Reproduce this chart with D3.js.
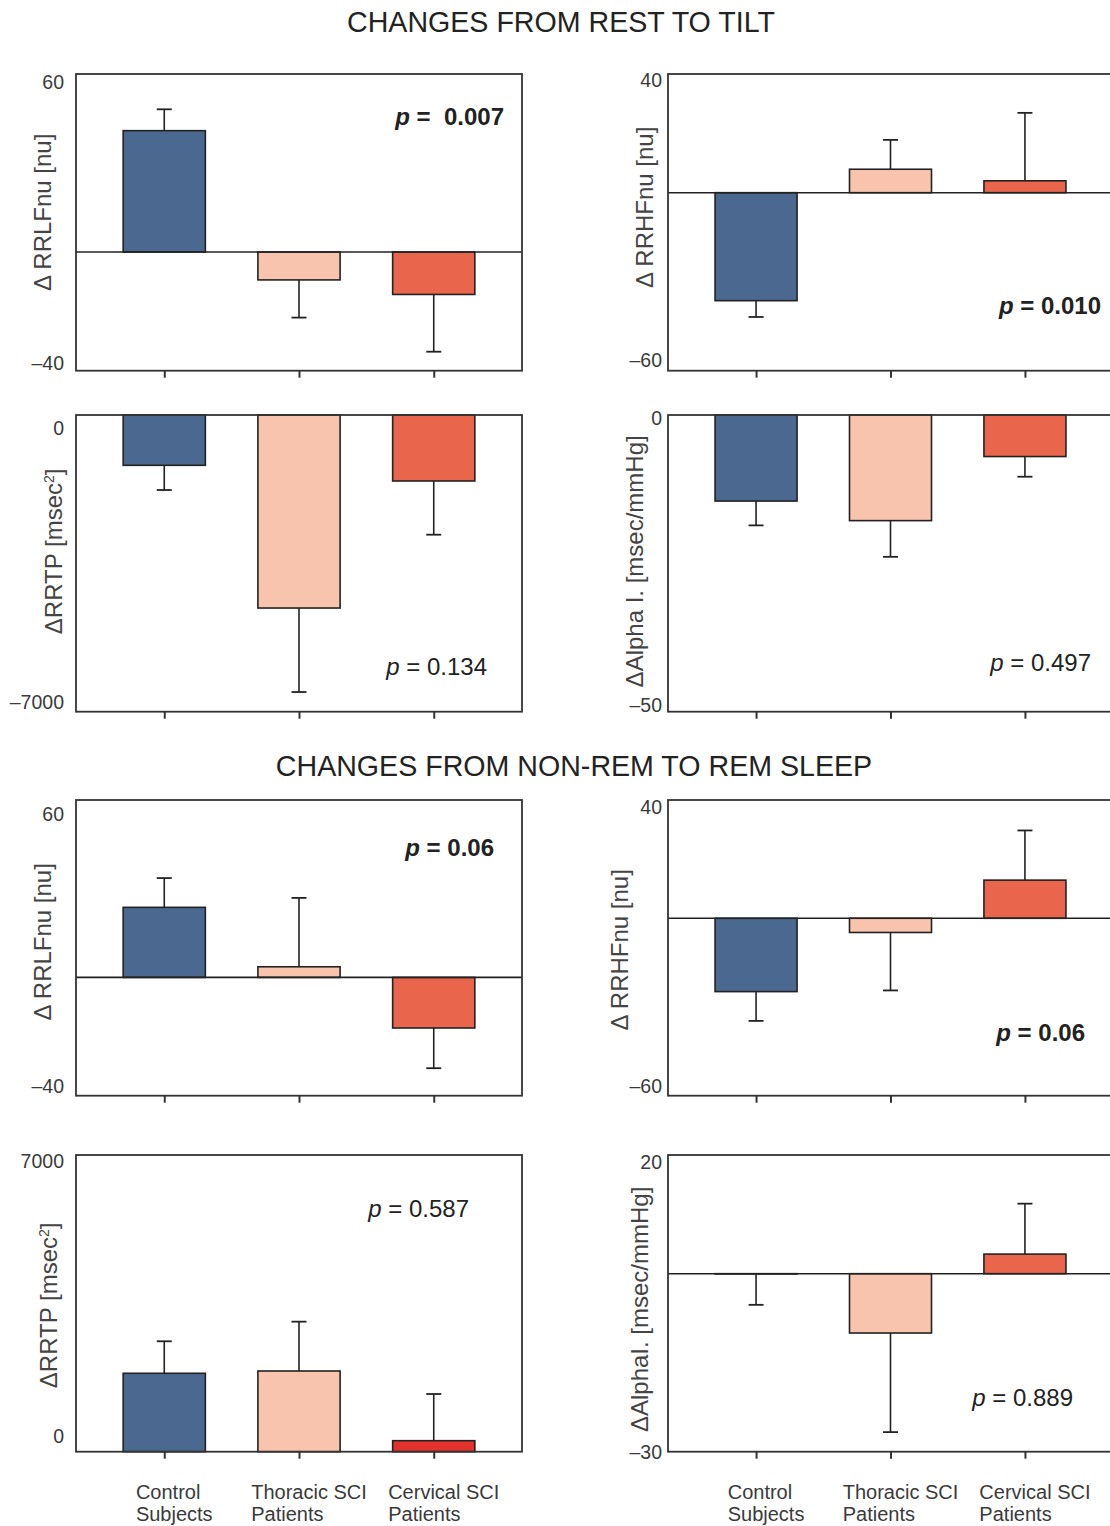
<!DOCTYPE html>
<html><head><meta charset="utf-8">
<script src="https://cdn.jsdelivr.net/npm/d3@7"></script>
<style>
body{margin:0;background:#fff;}
svg{display:block;font-family:"Liberation Sans",Arial,Helvetica,sans-serif;}
</style>
</head><body>
<svg id="chart" width="1110" height="1526"></svg>
<script>
// ---------------- DATA ----------------
const categories = ["Control Subjects", "Thoracic SCI Patients", "Cervical SCI Patients"];
const categoryLines = [["Control", "Subjects"], ["Thoracic SCI", "Patients"], ["Cervical SCI", "Patients"]];
const sectionTitles = ["CHANGES FROM REST TO TILT", "CHANGES FROM NON-REM TO REM SLEEP"];

// Rest -> Tilt
const tiltLFMean = [40.9, -9.4, -14.3];
const tiltLFErr  = [7.2, 12.7, 19.3];
const tiltHFMean = [-36.4, 7.9, 4.0];
const tiltHFErr  = [5.5, 9.9, 22.9];
const tiltTPMean = [-1187, -4554, -1557];
const tiltTPErr  = [583, 1982, 1267];
const tiltAlphaMean = [-14.5, -17.8, -7.0];
const tiltAlphaErr  = [4.1, 6.1, 3.4];
// Non-REM -> REM
const sleepLFMean = [23.7, 3.6, -17.1];
const sleepLFErr  = [9.9, 23.3, 13.6];
const sleepHFMean = [-24.8, -4.8, 12.9];
const sleepHFErr  = [9.9, 19.6, 16.8];
const sleepTPMean = [1850, 1904, 260];
const sleepTPErr  = [755, 1164, 1101];
const sleepAlphaMean = [-0.05, -10.0, 3.3];
const sleepAlphaErr  = [5.2, 16.7, 8.5];

// axis ranges / tick labels
const tiltLFTicks = [-40, 60];
const tiltHFTicks = [-60, 40];
const tiltTPTicks = [-7000, 0];
const tiltAlphaTicks = [-50, 0];
const sleepLFTicks = [-40, 60];
const sleepHFTicks = [-60, 40];
const sleepTPTicks = [0, 7000];
const sleepAlphaTicks = [-30, 20];

// p-values
const pValues = ["0.007", "0.010", "0.134", "0.497", "0.06", "0.06", "0.587", "0.889"];
const pBold   = [true, true, false, false, true, true, false, false];

const yLabels = ["Δ RRLFnu [nu]", "Δ RRHFnu [nu]", "ΔRRTP [msec|2|]", "ΔAlpha I. [msec/mmHg]",
                 "Δ RRLFnu [nu]", "Δ RRHFnu [nu]", "ΔRRTP [msec|2|]", "ΔAlphaI. [msec/mmHg]"];

const panels = [
  {mean: tiltLFMean, err: tiltLFErr, ticks: tiltLFTicks},
  {mean: tiltHFMean, err: tiltHFErr, ticks: tiltHFTicks},
  {mean: tiltTPMean, err: tiltTPErr, ticks: tiltTPTicks},
  {mean: tiltAlphaMean, err: tiltAlphaErr, ticks: tiltAlphaTicks},
  {mean: sleepLFMean, err: sleepLFErr, ticks: sleepLFTicks},
  {mean: sleepHFMean, err: sleepHFErr, ticks: sleepHFTicks},
  {mean: sleepTPMean, err: sleepTPErr, ticks: sleepTPTicks},
  {mean: sleepAlphaMean, err: sleepAlphaErr, ticks: sleepAlphaTicks}
];

// ---------------- LAYOUT / STYLE ----------------
const colX = [[76, 522], [668, 1113]];
const rowY = [[74, 370.7], [415, 711.7], [800, 1095.7], [1155, 1451.7]];
const fills = ["#4b6890", "#f9c4ad", "#e9654b"];
const fillsAlt = ["#4b6890", "#f9c4ad", "#e3322c"];
const layout = [
  {col:0,row:0, lab:[-33,-10], nudge:[8,-8],   p:[-18,43],  fills:fills},
  {col:1,row:0, lab:[-23,-15], nudge:[6,-11],  p:[-12,232], fills:fills},
  {col:0,row:1, lab:[-22,-12], nudge:[13,-10], p:[-35,252], fills:fills},
  {col:1,row:1, lab:[-33,-2],  nudge:[3,-7],   p:[-22,248], fills:fills},
  {col:0,row:2, lab:[-33,-6],  nudge:[14,-10], p:[-28,48],  fills:fills},
  {col:1,row:2, lab:[-48,2],   nudge:[7,-10],  p:[-28,233], fills:fills},
  {col:0,row:3, lab:[-27,2],   nudge:[6,-16],  p:[-53,54],  fills:fillsAlt},
  {col:1,row:3, lab:[-28,6],   nudge:[7,0],    p:[-40,243], fills:fills}
];
const tickGap = [12, 6];
const titlePos = [[561, 32], [574, 776]];

const svg = d3.select("#chart");
const fmt = v => v < 0 ? "\u2013" + Math.abs(v) : String(v);

// titles
sectionTitles.forEach((t, i) => {
  svg.append("text").attr("x", titlePos[i][0]).attr("y", titlePos[i][1])
    .attr("text-anchor", "middle").attr("font-size", 28.6).attr("fill", "#222").text(t);
});

panels.forEach((pd, i) => {
  const L = layout[i];
  const [x0, x1] = colX[L.col];
  const [y0, y1] = rowY[L.row];
  const x = d3.scalePoint().domain(categories).range([x0, x1]).padding(0.655);
  const y = d3.scaleLinear().domain(d3.extent(pd.ticks)).range([y1, y0]);
  const bw = x.step() * 0.61;
  const capW = 15;
  const g = svg.append("g");

  const data = categories.map((c, k) => ({c, k, v: pd.mean[k], e: pd.err[k]}));

  // error bars
  const eb = g.selectAll(".eb").data(data).enter().append("g");
  eb.append("line")
    .attr("x1", d => x(d.c)).attr("x2", d => x(d.c))
    .attr("y1", d => y(d.v)).attr("y2", d => y(d.v + (d.v < 0 ? -d.e : d.e)))
    .attr("stroke", "#222").attr("stroke-width", 1.6);
  eb.append("line")
    .attr("x1", d => x(d.c) - capW / 2).attr("x2", d => x(d.c) + capW / 2)
    .attr("y1", d => y(d.v + (d.v < 0 ? -d.e : d.e))).attr("y2", d => y(d.v + (d.v < 0 ? -d.e : d.e)))
    .attr("stroke", "#222").attr("stroke-width", 1.8);

  // bars
  g.selectAll(".bar").data(data).enter().append("rect")
    .attr("x", d => x(d.c) - bw / 2)
    .attr("width", bw)
    .attr("y", d => y(Math.max(0, d.v)))
    .attr("height", d => Math.abs(y(d.v) - y(0)))
    .attr("fill", d => L.fills[d.k])
    .attr("stroke", "#222").attr("stroke-width", 1.6);

  // zero line
  const dom = y.domain();
  if (dom[0] < 0 && dom[1] > 0) {
    g.append("line").attr("x1", x0).attr("x2", x1).attr("y1", y(0)).attr("y2", y(0))
      .attr("stroke", "#222").attr("stroke-width", 1.6);
  }

  // frame
  g.append("rect").attr("x", x0).attr("y", y0).attr("width", x1 - x0).attr("height", y1 - y0)
    .attr("fill", "none").attr("stroke", "#333").attr("stroke-width", 1.8);

  // x axis ticks
  const xa = g.append("g").attr("transform", `translate(0,${y1})`)
    .call(d3.axisBottom(x).tickSize(7).tickSizeOuter(0).tickFormat(""));
  xa.select(".domain").remove();
  xa.selectAll(".tick line").attr("stroke", "#333").attr("stroke-width", 2);

  // y axis labels (ends only)
  const ya = g.append("g").attr("transform", `translate(${x0},0)`)
    .call(d3.axisLeft(y).tickValues(pd.ticks).tickSize(0).tickPadding(tickGap[L.col]).tickFormat(fmt));
  ya.select(".domain").remove();
  ya.attr("font-size", null).attr("font-family", null);
  ya.selectAll(".tick text")
    .attr("font-size", 19.5).attr("fill", "#3a3a3a")
    .attr("dy", "0.35em")
    .attr("y", v => v === dom[1] ? L.nudge[0] : L.nudge[1]);

  // y axis title
  const lx = x0 + L.lab[0], ly = (y0 + y1) / 2 + L.lab[1];
  const yt = g.append("text").attr("transform", `translate(${lx},${ly}) rotate(-90)`)
    .attr("text-anchor", "middle").attr("dy", "0.35em")
    .attr("font-size", 24).attr("fill", "#444");
  const parts = yLabels[i].split("|");
  parts.forEach((s, j) => {
    const ts = yt.append("tspan").text(s);
    if (j === 1) ts.attr("font-size", 14).attr("baseline-shift", "super");
  });

  // p value
  const pt = g.append("text").attr("x", x1 + L.p[0]).attr("y", y0 + L.p[1])
    .attr("text-anchor", "end").attr("dy", "0.35em")
    .attr("font-size", 24).attr("fill", "#222")
    .attr("font-weight", pBold[i] ? "bold" : "normal");
  pt.append("tspan").attr("font-style", "italic").text("p");
  pt.append("tspan").text(i === 0 ? " =\u00a0 " + pValues[i] : " = " + pValues[i]);

  // category labels on bottom row
  if (L.row === 3) {
    data.forEach(d => {
      const t = g.append("text").attr("font-size", 20).attr("fill", "#3a3a3a");
      categoryLines[d.k].forEach((ln, j) => {
        t.append("tspan").attr("y", y1 + 47 + j * 22).text(ln);
      });
      const w = d3.max(t.selectAll("tspan").nodes(), n => n.getComputedTextLength());
      t.selectAll("tspan").attr("x", x(d.c) + 10 - w / 2);
    });
  }
});
</script>
</body></html>
